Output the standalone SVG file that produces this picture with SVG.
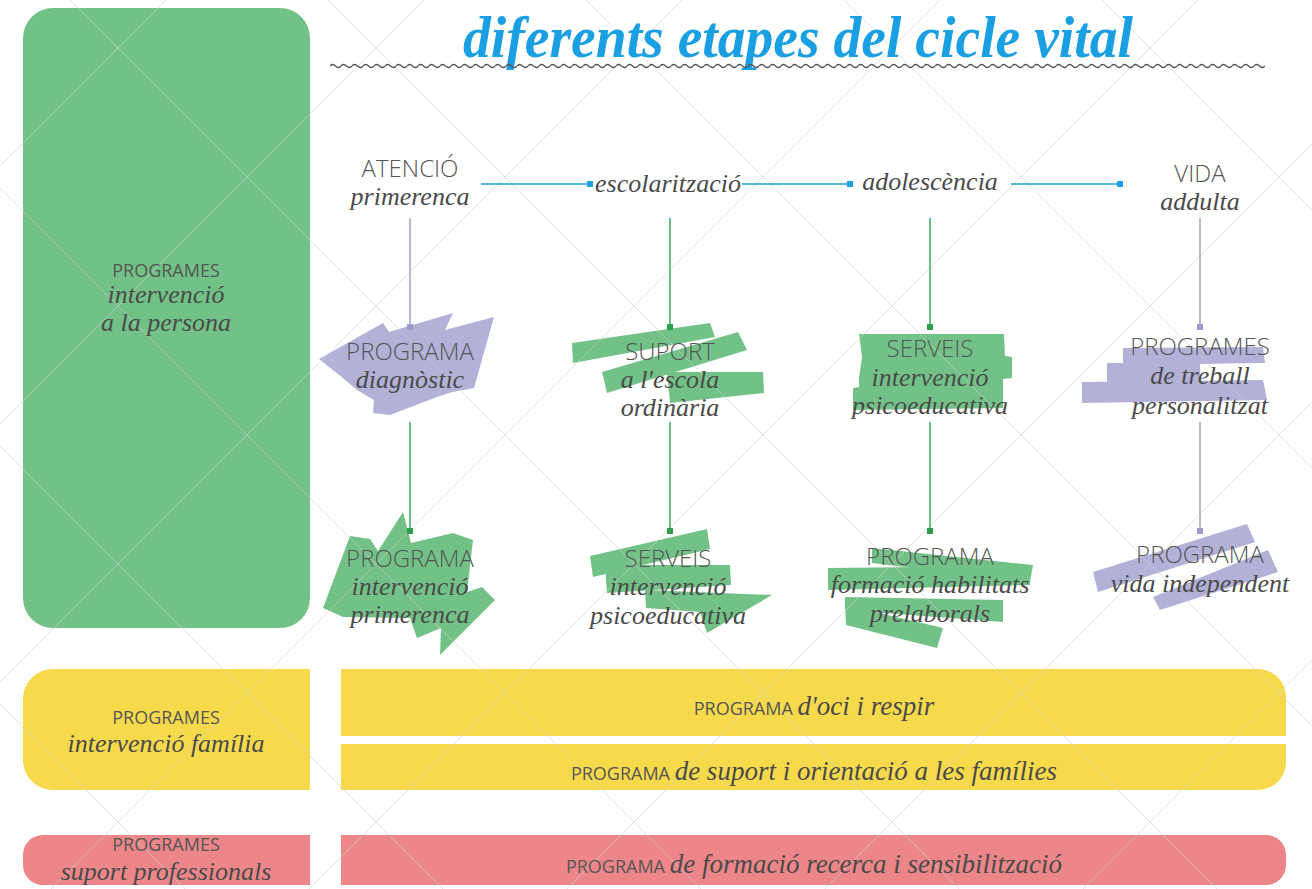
<svg xmlns="http://www.w3.org/2000/svg" width="1312" height="889" viewBox="0 0 1312 889">
<defs>
<style>
.sans{font-family:"Open Sans","Liberation Sans",sans-serif;font-weight:300;fill:#555;font-size:24px;text-anchor:middle}
.sm{font-family:"Open Sans","Liberation Sans",sans-serif;font-weight:400;fill:#555;font-size:18px;text-anchor:middle}
.scr{font-family:"Liberation Serif","DejaVu Serif",serif;font-style:italic;fill:#4a4a4a;font-size:26px;text-anchor:middle}
.scrt{font-family:"Liberation Serif",serif;font-style:italic;}
.grid line{stroke:#d2d2d2;stroke-width:1;opacity:0.6}
.green{fill:#72c287}
.purple{fill:#b3b1d7}
.blue{stroke:#1a9fe2;stroke-width:1.6;fill:none}
.vp{stroke:#a9a5d3;stroke-width:1.6}
.vg{stroke:#47b062;stroke-width:1.6}
.sqb{fill:#1a9fe2}
.sqp{fill:#9e9acb}
.sqg{fill:#2f9e4c}
</style>
<pattern id="wave" x="330" y="62" width="11" height="8" patternUnits="userSpaceOnUse">
<path d="M0 4 Q2.75 1 5.5 4 T11 4" fill="none" stroke="#555" stroke-width="1.3"/>
</pattern>
</defs>
<rect width="1312" height="889" fill="#fff"/>

<g id="left-persona">
<rect x="23" y="8" width="287" height="620" rx="30" class="green"/>
</g>
<g id="left-familia">
<path d="M310 669 H53 A30 30 0 0 0 23 699 V760 A30 30 0 0 0 53 790 H310 Z" fill="#f6da4b"/>
</g>
<g id="bar-oci">
<path d="M341 669 H1258 A28 28 0 0 1 1286 697 V736 H341 Z" fill="#f6da4b"/>
</g>
<g id="bar-suport">
<path d="M341 744 H1286 V762 A28 28 0 0 1 1258 790 H341 Z" fill="#f6da4b"/>
</g>
<g id="left-professionals">
<path d="M310 835 H43 A20 20 0 0 0 23 855 V865 A20 20 0 0 0 43 885 H310 Z" fill="#ec8689"/>
</g>
<g id="bar-formacio">
<path d="M341 835 H1266 A20 20 0 0 1 1286 855 V865 A20 20 0 0 1 1266 885 H341 Z" fill="#ec8689"/>
</g>

<!-- brush shapes -->
<g id="shape-diagnostic" class="purple">
<polygon points="319,359 383,323 389,332 453,313 445,330 494,317 474,388 452,392 437,397 390,415 373,413 374,400 357,390 343,378"/>
</g>
<g id="shape-suport" class="green">
<polygon points="572,343 710,323 715,337 573,363"/>
<polygon points="602,372 738,332 747,350 607,393"/>
<polygon points="667,372 763,372 764,393 670,403"/>
</g>
<g id="shape-serveis1" class="green">
<polygon points="859,334 1004,334 1005,356 1012,357 1012,378 1003,379 1003,408 853,410 853,388 859,387 859,378 862,357"/>
</g>
<g id="shape-treball" class="purple">
<polygon points="1123,348 1263,347 1265,363 1123,365"/>
<polygon points="1107,363 1200,363 1200,382 1107,382"/>
<polygon points="1082,382 1263,380 1267,400 1082,403"/>
</g>
<g id="shape-primerenca" class="green">
<polygon points="323,608 350,536 370,539 378,551 403,512 411,543 453,533 473,540 467,592 482,587 495,600 440,655 441,628 417,638 410,618 343,617"/>
</g>
<g id="shape-serveis2" class="green">
<polygon points="590,556 707,529 710,549 593,577"/>
<polygon points="605,565 730,565 731,585 607,593"/>
<polygon points="645,590 772,595 707,633 700,612 646,608"/>
</g>
<g id="shape-habilitats" class="green">
<polygon points="872,548 1033,565 1030,582 872,563"/>
<polygon points="828,568 1030,566 1030,585 828,590"/>
<polygon points="845,597 1003,600 1003,622 845,610"/>
<polygon points="845,605 943,628 937,648 846,625"/>
</g>
<g id="shape-independent" class="purple">
<polygon points="1093,572 1247,524 1255,542 1098,592"/>
<polygon points="1153,597 1268,550 1278,572 1160,610"/>
</g>

<!-- background grid -->
<g class="grid">
<line x1="-704" y1="0" x2="185" y2="889"/>
<line x1="-446" y1="0" x2="443" y2="889"/>
<line x1="-188" y1="0" x2="701" y2="889"/>
<line x1="70" y1="0" x2="959" y2="889"/>
<line x1="328" y1="0" x2="1217" y2="889"/>
<line x1="586" y1="0" x2="1475" y2="889"/>
<line x1="844" y1="0" x2="1733" y2="889"/>
<line x1="1102" y1="0" x2="1991" y2="889"/>
<line x1="166" y1="0" x2="-723" y2="889"/>
<line x1="424" y1="0" x2="-465" y2="889"/>
<line x1="682" y1="0" x2="-207" y2="889"/>
<line x1="940" y1="0" x2="51" y2="889"/>
<line x1="1198" y1="0" x2="309" y2="889"/>
<line x1="1456" y1="0" x2="567" y2="889"/>
<line x1="1714" y1="0" x2="825" y2="889"/>
<line x1="1972" y1="0" x2="1083" y2="889"/>
</g>

<g id="title">
<text x="463" y="57" textLength="670" lengthAdjust="spacingAndGlyphs" class="scrt" font-size="60" font-weight="bold" fill="#1a9fe2">diferents etapes del cicle vital</text>
<rect x="330" y="62" width="935" height="8" fill="url(#wave)"/>
</g>

<g id="connectors">
<line x1="481" y1="184" x2="590" y2="184" class="blue"/>
<line x1="742" y1="184" x2="850" y2="184" class="blue"/>
<line x1="1011" y1="184" x2="1120" y2="184" class="blue"/>
<rect x="587" y="181" width="6" height="6" class="sqb"/>
<rect x="847" y="181" width="6" height="6" class="sqb"/>
<rect x="1117" y="181" width="6" height="6" class="sqb"/>
<line x1="410" y1="218" x2="410" y2="326" class="vp"/>
<rect x="407" y="324" width="6" height="6" class="sqp"/>
<line x1="410" y1="422" x2="410" y2="530" class="vg"/>
<rect x="407" y="528" width="6" height="6" class="sqg"/>
<line x1="670" y1="218" x2="670" y2="326" class="vg"/>
<rect x="667" y="324" width="6" height="6" class="sqg"/>
<line x1="670" y1="422" x2="670" y2="530" class="vg"/>
<rect x="667" y="528" width="6" height="6" class="sqg"/>
<line x1="930" y1="218" x2="930" y2="326" class="vg"/>
<rect x="927" y="324" width="6" height="6" class="sqg"/>
<line x1="930" y1="422" x2="930" y2="530" class="vg"/>
<rect x="927" y="528" width="6" height="6" class="sqg"/>
<line x1="1200" y1="218" x2="1200" y2="326" class="vp"/>
<rect x="1197" y="324" width="6" height="6" class="sqp"/>
<line x1="1200" y1="422" x2="1200" y2="530" class="vp"/>
<rect x="1197" y="528" width="6" height="6" class="sqp"/>
</g>

<g id="stage-atencio">
<text x="410" y="177" class="sans">ATENCIÓ</text>
<text x="410" y="205" class="scr">primerenca</text>
</g>
<g id="stage-escolaritzacio">
<text x="668" y="192" class="scr">escolarització</text>
</g>
<g id="stage-adolescencia">
<text x="930" y="190" class="scr">adolescència</text>
</g>
<g id="stage-vida">
<text x="1200" y="182" class="sans">VIDA</text>
<text x="1200" y="210" class="scr">addulta</text>
</g>

<g id="node-diagnostic">
<text x="410" y="360" class="sans">PROGRAMA</text>
<text x="410" y="388" class="scr">diagnòstic</text>
</g>
<g id="node-suport-escola">
<text x="670" y="360" class="sans">SUPORT</text>
<text x="670" y="388" class="scr">a l'escola</text>
<text x="670" y="416" class="scr">ordinària</text>
</g>
<g id="node-serveis-1">
<text x="930" y="357" class="sans">SERVEIS</text>
<text x="930" y="386" class="scr">intervenció</text>
<text x="930" y="414" class="scr">psicoeducativa</text>
</g>
<g id="node-treball">
<text x="1200" y="355" class="sans">PROGRAMES</text>
<text x="1200" y="384" class="scr">de treball</text>
<text x="1200" y="414" class="scr">personalitzat</text>
</g>
<g id="node-primerenca">
<text x="410" y="567" class="sans">PROGRAMA</text>
<text x="410" y="595" class="scr">intervenció</text>
<text x="410" y="623" class="scr">primerenca</text>
</g>
<g id="node-serveis-2">
<text x="668" y="567" class="sans">SERVEIS</text>
<text x="668" y="595" class="scr">intervenció</text>
<text x="668" y="624" class="scr">psicoeducativa</text>
</g>
<g id="node-habilitats">
<text x="930" y="565" class="sans">PROGRAMA</text>
<text x="930" y="593" class="scr">formació habilitats</text>
<text x="930" y="622" class="scr">prelaborals</text>
</g>
<g id="node-independent">
<text x="1200" y="563" class="sans">PROGRAMA</text>
<text x="1200" y="592" class="scr">vida independent</text>
</g>

<g id="label-persona">
<text x="166" y="277" class="sm">PROGRAMES</text>
<text x="166" y="303" class="scr" font-size="23">intervenció</text>
<text x="166" y="331" class="scr" font-size="23">a la persona</text>
</g>
<g id="label-familia">
<text x="166" y="724" class="sm">PROGRAMES</text>
<text x="166" y="752" class="scr" font-size="25">intervenció família</text>
</g>
<g id="label-professionals">
<text x="166" y="851" class="sm">PROGRAMES</text>
<text x="166" y="880" class="scr" font-size="26">suport professionals</text>
</g>
<g id="label-oci">
<text x="814" y="715" class="sm">PROGRAMA <tspan class="scrt" fill="#4a4a4a" font-size="27">d'oci i respir</tspan></text>
</g>
<g id="label-suport-families">
<text x="814" y="780" class="sm">PROGRAMA <tspan class="scrt" fill="#4a4a4a" font-size="27">de suport i orientació a les famílies</tspan></text>
</g>
<g id="label-formacio">
<text x="814" y="873" class="sm">PROGRAMA <tspan class="scrt" fill="#4a4a4a" font-size="27">de formació recerca i sensibilització</tspan></text>
</g>
</svg>
